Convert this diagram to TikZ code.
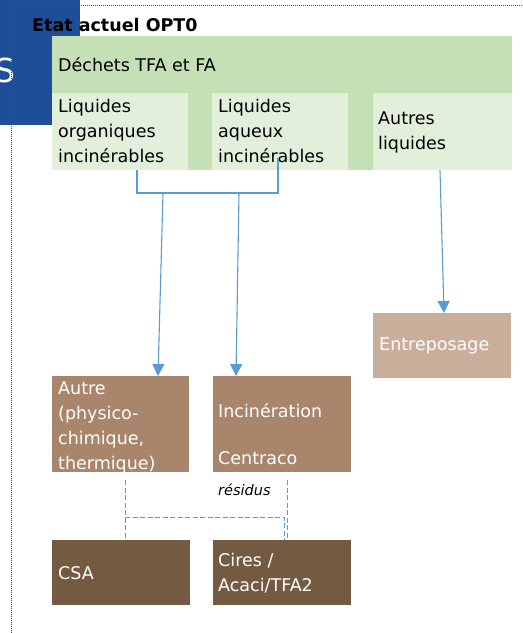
\documentclass[tikz,border=0pt]{standalone}
\usepackage{fontspec}
\setmainfont{DejaVu Sans}
\usetikzlibrary{arrows.meta,calc}
\definecolor{hdrblue}{HTML}{1E4D9A}
\definecolor{grn}{HTML}{C5E0B4}
\definecolor{lgrn}{HTML}{E2EFDA}
\definecolor{tan}{HTML}{C9AE9C}
\definecolor{brn}{HTML}{A8856B}
\definecolor{dbrn}{HTML}{745A41}
\definecolor{lnblue}{HTML}{5B9BD5}
\tikzset{
  box/.style={draw=none, inner sep=0pt, anchor=north west},
  txt/.style={inner sep=0pt, anchor=north west, align=left, font=\fontsize{17.5}{25}\selectfont},
  wtxt/.style={txt, text=white},
  link/.style={draw=lnblue, line width=1.1pt},
  arr/.style={link, -{Triangle[length=12pt,width=12pt]}},
  dlink/.style={draw=lnblue, line width=1pt, dash pattern=on 5pt off 2.5pt},
}
\begin{document}
\begin{tikzpicture}[x=1pt,y=-1pt]
\useasboundingbox (0,0) rectangle (523,633);
\fill[white] (0,0) rectangle (523,633);
% blue header block
\fill[hdrblue] (0,0) rectangle (80,36);
\fill[hdrblue] (0,0) rectangle (52,125);
\node[txt, text=white, font=\fontsize{33}{33}\selectfont, anchor=west] (bigS) at (-6,70) {S};
% dotted frame
\draw[black!70, line width=1pt, dash pattern=on 1pt off 1pt] (11,633) -- (11,5) -- (523,5);
\node[txt, font=\bfseries\fontsize{17.5}{20}\selectfont, anchor=west] (title) at (32,25) {Etat actuel OPT0};
% green container
\node[box, fill=grn, minimum width=460pt, minimum height=134pt] (dechets) at (52,36) {};
\node[txt, anchor=west] (dechetsT) at (58,65) {Déchets TFA et FA};
% sub boxes
\node[box, fill=lgrn, minimum width=136pt, minimum height=77pt] (org) at (52,93) {};
\node[box, fill=lgrn, minimum width=136pt, minimum height=77pt] (aq) at (212,93) {};
\node[box, fill=lgrn, minimum width=139pt, minimum height=77pt] (autres) at (373,93) {};
\node[txt] (orgT) at (58,98.5) {Liquides\\organiques\\incinérables};
\node[txt] (aqT) at (218,98.5) {Liquides\\aqueux\\incinérables};
\node[txt] (autresT) at (378,111.5) {Autres\\liquides};
% lower boxes
\node[box, fill=tan, minimum width=138pt, minimum height=65pt] (entr) at (373,313) {};
\node[wtxt, anchor=west] (entrT) at (379,346) {Entreposage};
\node[box, fill=brn, minimum width=137pt, minimum height=96pt] (autre) at (52,376) {};
\node[wtxt] (autreT) at (58,381.5) {Autre\\(physico-\\chimique,\\thermique)};
\node[box, fill=brn, minimum width=138pt, minimum height=96pt] (incin) at (213,376) {};
\node[wtxt] (incinT) at (218,403.5) {Incinération\\[22pt]Centraco};
\node[txt, anchor=west, font=\itshape\fontsize{14.5}{18}\selectfont] (resid) at (218,490) {résidus};
\node[box, fill=dbrn, minimum width=138pt, minimum height=65pt] (csa) at (52,540) {};
\node[wtxt, anchor=west] (csaT) at (58,573) {CSA};
\node[box, fill=dbrn, minimum width=138pt, minimum height=65pt] (cires) at (213,540) {};
\node[wtxt] (ciresT) at (218,552.5) {Cires /\\Acaci/TFA2};
% connectors
\coordinate (j1) at (137,193);
\coordinate (j2) at (278,193);
\coordinate (a1) at (163,193);
\coordinate (a2) at (239,193);
\draw[link] (org.south -| j1) -- (j1) -- (j2) -- ($(j2)+(0,-35)$);
\draw[arr] (a1) -- ($(autre.north west)+(106,0)$);
\draw[arr] (a2) -- ($(incin.north west)+(23,0)$);
\draw[arr] ($(autres.south west)+(67,0)$) -- ($(entr.north west)+(71,0)$);
% dashed residue links
\coordinate (d1) at (125,517);
\coordinate (d2) at (284,517);
\draw[dlink] ($(autre.south west)+(73,8)$) -- ($(csa.north west)+(73,0)$);
\draw[dlink] (d1) -- (d2) -- ($(cires.north west)+(71,0)$);
\draw[dlink] ($(incin.south west)+(74,8)$) -- ($(cires.north west)+(74,0)$);
\end{tikzpicture}
\end{document}
